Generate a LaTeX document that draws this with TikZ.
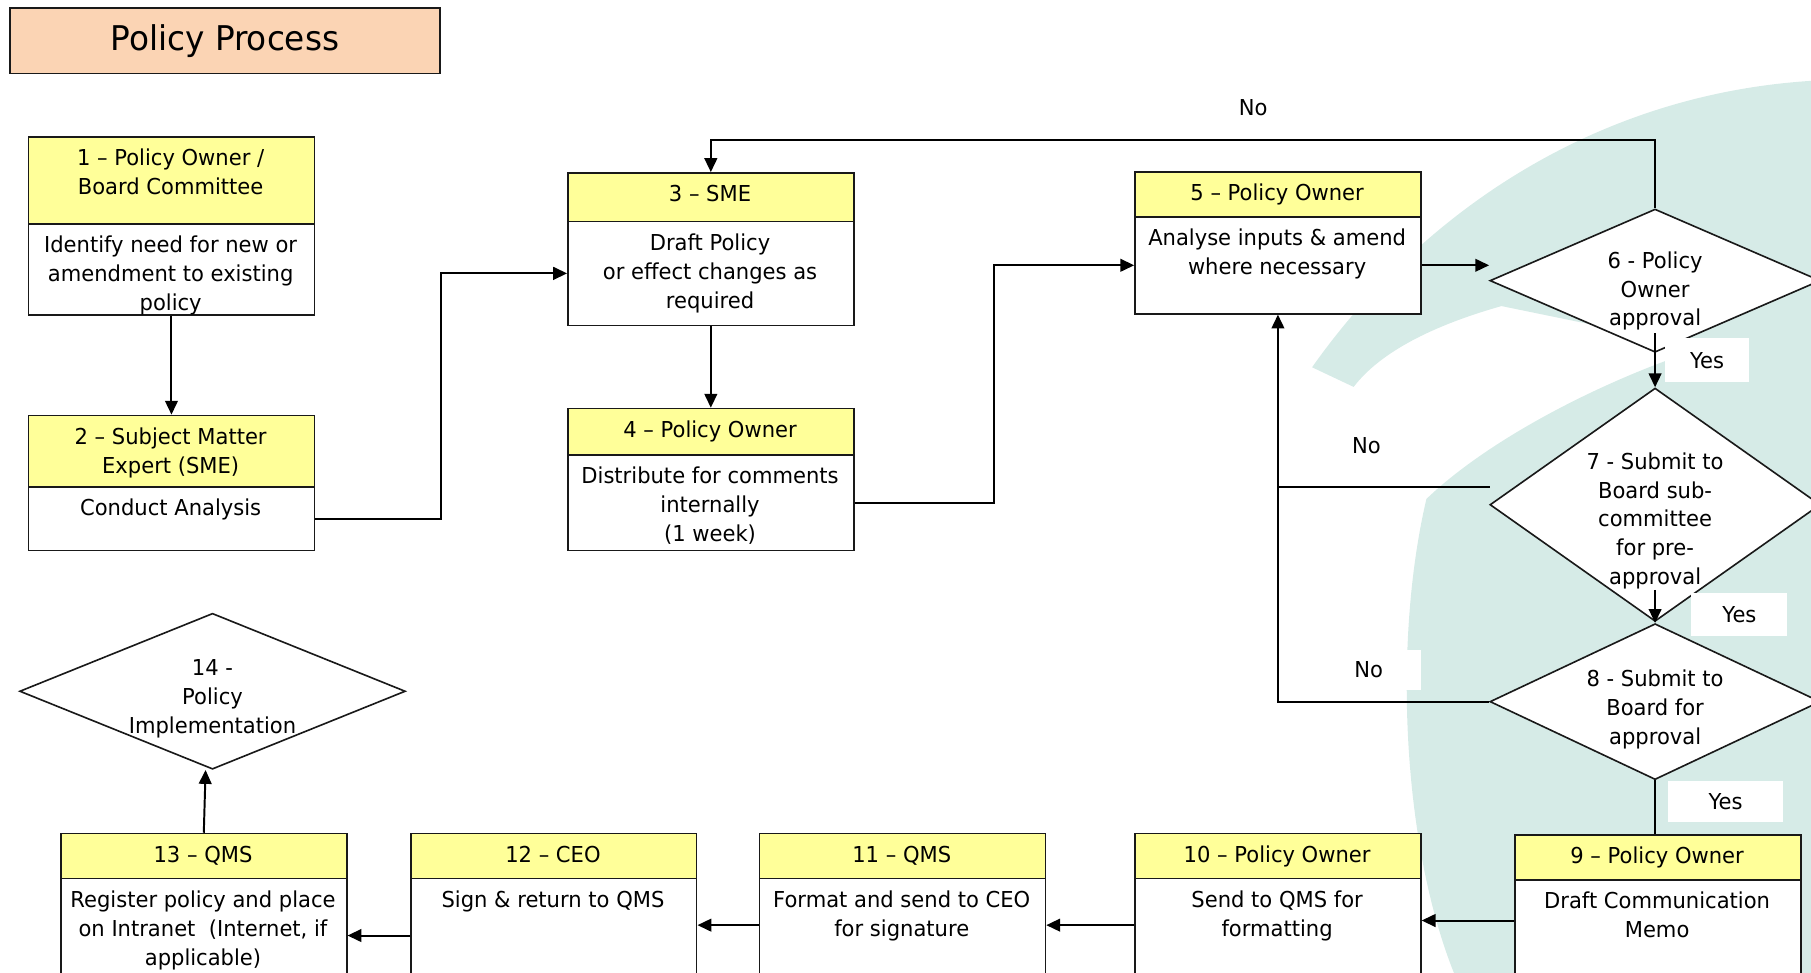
\documentclass[tikz,border=0pt]{standalone}
\usepackage{fontspec}
\setmainfont{DejaVu Sans}[FakeStretch=0.96]
\usetikzlibrary{shapes.geometric,arrows.meta,calc}

\definecolor{hdryellow}{RGB}{255,255,153}
\definecolor{titlepeach}{RGB}{251,212,180}
\definecolor{wm}{RGB}{214,235,231}
\definecolor{edge}{RGB}{25,25,25}

\tikzset{
  hdrbox/.style={rectangle, draw=edge, line width=1.4pt, fill=hdryellow, minimum width=247.5, inner sep=0},
  bodybox/.style={rectangle, draw=edge, line width=1.4pt, fill=white, minimum width=247.5, inner sep=0},
  boxtxt/.style={anchor=north, inner sep=0, align=center, font=\fontsize{19}{25}\selectfont},
  dmd/.style={diamond, draw=edge, line width=1.4pt, fill=white, inner sep=0, minimum width=286},
  lbl/.style={inner sep=0, font=\fontsize{19}{25}\selectfont},
  arr/.style={line width=1.7pt, -{Triangle[length=12pt,width=11pt]}},
  ln/.style={line width=1.7pt}
}

\newcommand\procbox[7]{%
  \node[hdrbox, minimum height={#4-#3}, anchor=north west] (#1h) at (#2,#3) {};
  \node[bodybox, minimum height={#5-#4}, anchor=north west] (#1b) at (#2,#4) {};
  \node[boxtxt] (#1t) at ({#2+123.75},{#3+8}) {\strut #6};
  \node[boxtxt] (#1x) at ({#2+123.75},{#4+8}) {\strut #7};
}

\begin{document}
\begin{tikzpicture}[x=1pt,y=-1pt]
\useasboundingbox (0,0) rectangle (1568,842.4);
\clip (0,0) rectangle (1568,842.4);

% watermark
\fill[wm] (1136,318) .. controls (1230,185) and (1380,82) .. (1568,70) -- (1568,320) -- (1300,265) .. controls (1240,282) and (1195,305) .. (1172,335) -- cycle;
\fill[wm] (1235,432) .. controls (1205,560) and (1215,740) .. (1262,850) -- (1568,850) -- (1568,280) .. controls (1470,290) and (1310,360) .. (1235,432) -- cycle;

% title
\node[draw=edge, line width=1.4pt, fill=titlepeach, minimum width=372, minimum height=57, anchor=north west, inner sep=0, font=\fontsize{29.5}{35}\selectfont] (title) at (8,6) {Policy Process};

% boxes
\procbox{b1}{24}{118}{193}{272}{1 – Policy Owner /\\Board Committee}{Identify need for new or\\amendment to existing\\policy}
\procbox{b2}{24}{359}{421}{476}{2 – Subject Matter\\Expert (SME)}{Conduct Analysis}
\procbox{b3}{491}{149}{191}{281}{3 – SME}{Draft Policy\\or effect changes as\\required}
\procbox{b4}{491}{353}{393}{476}{4 – Policy Owner}{Distribute for comments\\internally\\(1 week)}
\procbox{b5}{982}{148}{187}{271}{5 – Policy Owner}{Analyse inputs \& amend\\where necessary}
\procbox{b9}{1311}{722}{761}{880}{9 – Policy Owner}{Draft Communication\\Memo}
\procbox{b10}{982}{721}{760}{880}{10 – Policy Owner}{Send to QMS for\\formatting}
\procbox{b11}{657}{721}{760}{880}{11 – QMS}{Format and send to CEO\\for signature}
\procbox{b12}{355}{721}{760}{880}{12 – CEO}{Sign \& return to QMS}
\procbox{b13}{52}{721}{760}{880}{13 – QMS}{Register policy and place\\on Intranet~ (Internet, if\\applicable)}

% diamonds
\node[dmd, minimum height=124] (d6) at (1433,243) {};
\node[dmd, minimum height=202] (d7) at (1433,437) {};
\node[dmd, minimum height=135] (d8) at (1433,607.5) {};
\node[dmd, minimum width=334, minimum height=135] (d14) at (184,598.5) {};
\node[boxtxt] (d6t) at (1433,214.5) {\strut 6 - Policy\\Owner\\approval};
\node[boxtxt] (d7t) at (1433,388.5) {\strut 7 - Submit to\\Board sub-\\committee\\for pre-\\approval};
\node[boxtxt] (d8t) at (1433,576.5) {\strut 8 - Submit to\\Board for\\approval};
\node[boxtxt] (d14t) at (184,567.5) {\strut 14 -\\Policy\\Implementation};

% labels
\node[lbl] (no1) at (1085,93) {No};
\node[lbl, fill=white, minimum width=73, minimum height=38] (yes1) at (1478,312) {Yes};
\node[lbl] (no2) at (1183,386) {No};
\node[lbl, fill=white, minimum width=83, minimum height=37] (yes2) at (1506,532) {Yes};
\node[lbl, fill=white, minimum width=90, minimum height=35] (no3) at (1185,580) {No};
\node[lbl, fill=white, minimum width=100, minimum height=36] (yes3) at (1494,694) {Yes};

% connectors
\coordinate (topy) at (0,121);
\coordinate (no7) at (1290,422);
\coordinate (y910) at (0,797);
\coordinate (y1011) at (0,801);
\coordinate (y1213) at (0,810);

\draw[arr] (b1b.south) -- (b2h.north);
\draw[arr] (b2b.east) -- ++(109,0) |- (b3b.west);
\draw[arr] (b3b.south) -- (b4h.north);
\draw[arr] (b4b.east) -- ++(121,0) |- (b5b.west);
\draw[arr] (b5b.east) -- (b5b.east -| d6.west);
\draw[arr] (d6.north) -- (d6.north |- topy) -| (b3h.north);
\draw[arr] ([yshift=17pt]d6.south) -- (d7.north);
\draw[arr] (no7) -| (b5b.south);
\draw[ln] (d8.west) -| (b5b.south |- no7);
\draw[arr] ([yshift=28pt]d7.south) -- (d8.north);
\draw[ln] (d8.south) -- (d8.south |- b9h.north);
\draw[arr] (b9b.west |- y910) -- (b10b.east |- y910);
\draw[arr] (b10b.west |- y1011) -- (b11b.east |- y1011);
\draw[arr] (b11b.west |- y1011) -- (b12b.east |- y1011);
\draw[arr] (b12b.west |- y1213) -- (b13b.east |- y1213);
\draw[arr] (b13h.north) -- ([xshift=-6pt]d14.south);
\end{tikzpicture}
\end{document}
